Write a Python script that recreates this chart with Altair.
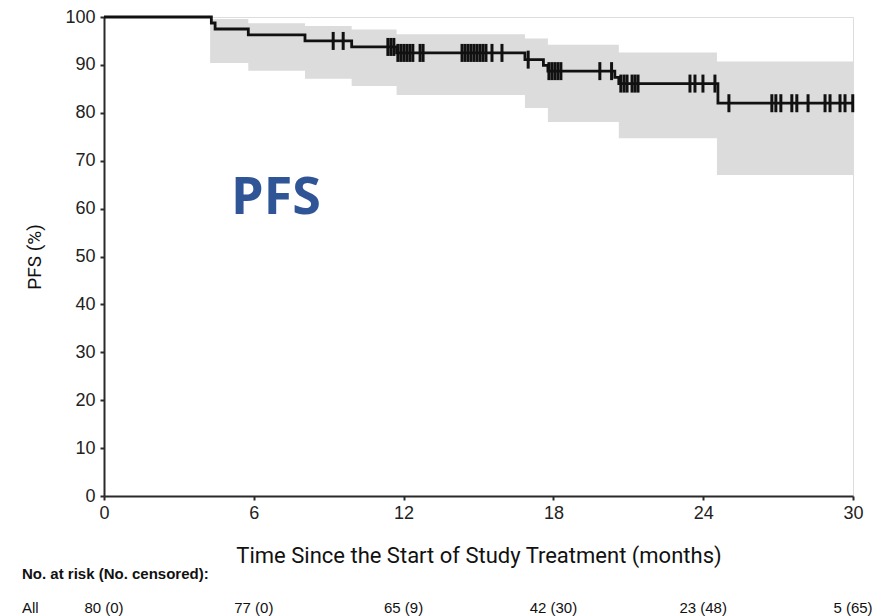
import numpy as np
import pandas as pd
import altair as alt

# Kaplan-Meier estimate of progression-free survival (%)
step_times = [0, 4.3, 4.45, 5.78, 8.05, 9.92, 11.72, 16.86, 17.6, 17.78, 20.46, 20.62, 24.59, 30]
step_surv = [100, 98.75, 97.5, 96.25, 95.0, 93.75, 92.5, 91.1, 89.9, 88.7, 87.4, 86.1, 82.0, 82.0]

# 95% confidence band
ci_times = [4.25, 5.78, 8.05, 9.92, 11.72, 16.86, 17.78, 20.62, 24.55, 30]
ci_upper = [99.6, 98.7, 98.1, 97.4, 96.4, 95.5, 94.2, 92.6, 90.7, 90.7]
ci_lower = [90.4, 88.8, 87.1, 85.6, 83.7, 81.0, 78.1, 74.7, 67.0, 67.0]

# Censored observations (months)
censor_times = [9.18, 9.58, 11.37, 11.49, 11.61, 11.77, 11.89, 12.01, 12.13, 12.25, 12.37,
                12.66, 12.78, 14.34, 14.46, 14.58, 14.70, 14.82, 14.94, 15.06, 15.18, 15.30,
                15.54, 15.94, 16.99, 17.82, 17.94, 18.06, 18.18, 18.30, 19.86, 20.33,
                20.70, 20.83, 20.95, 21.15, 21.27, 21.39, 23.47, 23.67, 23.99, 24.47,
                25.03, 26.75, 26.91, 27.11, 27.55, 27.75, 28.20, 28.88, 29.08, 29.48,
                29.68, 29.99]

# Number at risk table
risk_times = [0, 6, 12, 18, 24, 30]
risk_labels = ["80 (0)", "77 (0)", "65 (9)", "42 (30)", "23 (48)", "5 (65)"]

W, H = 749, 479
LINE = "#111111"
AXIS = "#2a2a2a"

curve = pd.DataFrame({"t": step_times, "s": step_surv})
band = pd.DataFrame({"t": ci_times, "lo": ci_lower, "hi": ci_upper})
idx = np.searchsorted(np.array(step_times), np.array(censor_times), side="right") - 1
cens = pd.DataFrame({"t": censor_times, "s": np.array(step_surv)[idx]})
risk = pd.DataFrame({"t": risk_times, "label": risk_labels})

xscale = alt.Scale(domain=[0, 30], nice=False, zero=False)
yscale = alt.Scale(domain=[0, 100], nice=False)

x_axis = alt.Axis(
    values=[0, 6, 12, 18, 24, 30], title="Time Since the Start of Study Treatment (months)",
    grid=False, domainColor=AXIS, domainWidth=2, tickColor=AXIS, tickWidth=2, tickSize=4,
    labelFont="Liberation Sans", labelFontSize=18, labelColor="#222", labelPadding=4,
    labelFlush=False,
    titleFont="Roboto", titleFontSize=22, titleFontWeight="normal", titleColor="#111",
    titleY=66, titleBaseline="alphabetic",
)
y_axis = alt.Axis(
    values=list(range(0, 101, 10)), title="PFS (%)",
    grid=False, domainColor=AXIS, domainWidth=2, tickColor=AXIS, tickWidth=2, tickSize=4,
    labelFont="Liberation Sans", labelFontSize=18, labelColor="#222", labelPadding=5,
    labelFlush=False,
    titleFont="Roboto", titleFontSize=19, titleFontWeight="normal", titleColor="#111",
    titleX=-64, titleY=H / 2, titleBaseline="alphabetic", titleAngle=-90,
)

area = alt.Chart(band).mark_area(interpolate="step-after", color="#dcdcdc", opacity=1).encode(
    x=alt.X("t:Q", scale=xscale, axis=x_axis),
    y=alt.Y("lo:Q", scale=yscale, axis=y_axis),
    y2="hi:Q",
)

line = alt.Chart(curve).mark_line(interpolate="step-after", color=LINE, strokeWidth=2.8).encode(
    x=alt.X("t:Q", scale=xscale),
    y=alt.Y("s:Q", scale=yscale),
)

ticks = alt.Chart(cens).mark_tick(orient="vertical", size=18, thickness=3, color=LINE, opacity=1).encode(
    x=alt.X("t:Q", scale=xscale),
    y=alt.Y("s:Q", scale=yscale),
)

risk_text = alt.Chart(risk).mark_text(
    font="Liberation Sans", fontSize=15, color="#111", align="center", baseline="alphabetic"
).encode(
    x=alt.X("t:Q", scale=xscale),
    y=alt.value(596),
    text="label:N",
)

header = alt.Chart(pd.DataFrame({"txt": ["No. at risk (No. censored):"]})).mark_text(
    font="Liberation Sans", fontSize=15, fontWeight="bold", color="#111", align="left",
    baseline="alphabetic"
).encode(x=alt.value(-82), y=alt.value(562), text="txt:N")

group = alt.Chart(pd.DataFrame({"txt": ["All"]})).mark_text(
    font="Liberation Sans", fontSize=15, color="#111", align="left", baseline="alphabetic"
).encode(x=alt.value(-82), y=alt.value(596), text="txt:N")

pfs = alt.Chart(pd.DataFrame({"txt": ["PFS"]})).mark_text(
    font="Open Sans", fontSize=52, fontWeight="bold", color="#2f5597", align="left",
    baseline="alphabetic"
).encode(x=alt.value(127), y=alt.value(197), text="txt:N")

chart = alt.layer(area, line, ticks, risk_text, header, group, pfs).properties(
    width=W, height=H,
    autosize=alt.AutoSizeParams(type="none"),
    padding={"left": 104, "top": 17, "right": 41, "bottom": 120},
).configure_view(stroke=None).configure(background="white")

chart.save("out.html", embed_options={"renderer": "svg", "actions": False})
